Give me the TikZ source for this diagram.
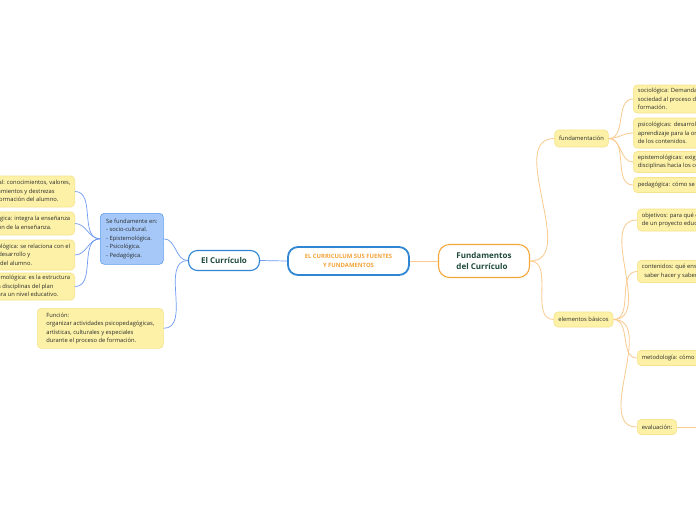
\documentclass[tikz,border=0pt]{standalone}
\usepackage{fontspec}
\setmainfont{Open Sans}
\definecolor{rootc}{HTML}{2F86D2}
\definecolor{rootlbl}{HTML}{F5A23A}
\definecolor{orgc}{HTML}{F5A83A}
\definecolor{orgln}{HTML}{F9CB8E}
\definecolor{bluln}{HTML}{6F9BF0}
\definecolor{ttlc}{HTML}{1E4A3A}
\definecolor{ylwfill}{HTML}{FCF1A7}
\definecolor{ylwdraw}{HTML}{F6E38C}
\definecolor{bluefill}{HTML}{A5C8F8}
\definecolor{bluedraw}{HTML}{5E9EEC}
\definecolor{txtc}{HTML}{2B2B2B}
\usetikzlibrary{positioning}
\newcommand{\mapfont}{\fontsize{5.8}{8.5}\selectfont}
\tikzset{
  rootbox/.style={draw=rootc,line width=1.8pt,rounded corners=10pt,fill=white,minimum width=121pt,minimum height=28pt,text=rootlbl,font=\fontsize{5.9}{9}\selectfont\bfseries,align=center},
  mainbox/.style={line width=1.1pt,rounded corners=11pt,fill=white,text=ttlc,font=\fontsize{8}{11.5}\selectfont\bfseries,align=left},
  bluebox/.style={draw=bluedraw,fill=bluefill,line width=0.6pt,rounded corners=4pt,text=txtc,font=\mapfont,align=left,inner xsep=4pt},
  leafbox/.style={draw=ylwdraw,fill=ylwfill,line width=0.6pt,rounded corners=4pt,text=txtc,font=\mapfont,align=left,inner xsep=4.5pt,inner ysep=2pt},
  conB/.style={draw=bluln,line width=0.7pt},
  conO/.style={draw=orgln,line width=0.8pt},
}

\begin{document}
\begin{tikzpicture}[x=1pt,y=-1pt]
  \path[use as bounding box] (0,0) rectangle (696,520);
  \clip (0,0) rectangle (696,520);
  \fill[white] (0,0) rectangle (696,520);
  % centro
  \node[rootbox] (root) at (348.5,261) {EL CURRICULUM SUS FUENTES\\Y FUNDAMENTOS};
  \node[mainbox,draw=orgc,minimum width=91pt,minimum height=33pt] (fund) at (484,261) {Fundamentos\\del Currículo};
  \node[mainbox,draw=rootc,minimum width=71pt,minimum height=20pt,rounded corners=9pt] (curr) at (224,260.5) {El Currículo};
  % lado izquierdo
  \node[bluebox,anchor=north west,minimum width=63pt,minimum height=51pt] (sefund) at (100,213) {Se fundamente en:\\- socio-cultural.\\- Epistemológica.\\- Psicológica.\\- Pedagógica.};
  \node[leafbox,anchor=east,minimum height=31pt] (socio) at (75,191.5) {Fuente socio-cultural: conocimientos, valores,\\actitudes, comportamientos y destrezas\\necesarias para la  formación del alumno.};
  \node[leafbox,anchor=east,minimum height=23pt] (pedag) at (75,223.5) {Fuente pedagógica: integra la enseñanza\\y la organización  de la enseñanza.};
  \node[leafbox,anchor=east,minimum height=30pt] (psico) at (75,255) {Fuente psicológica: se relaciona con el\\proceso de desarrollo y\\aprendizaje del alumno.};
  \node[leafbox,anchor=east,minimum height=27pt] (episte) at (75,286.5) {Fuente epistemológica: es la estructura\\interna de las disciplinas del plan\\de estudio para un nivel educativo.};
  \node[leafbox,anchor=north west,minimum width=126pt,minimum height=40pt] (funcion) at (37,308) {Función:\\organizar actividades psicopedagógicas,\\artísticas, culturales y especiales\\durante el proceso de formación.};
  % lado derecho
  \node[leafbox,minimum width=51pt,minimum height=17pt] (fundam) at (581.5,138.5) {fundamentación};
  \node[leafbox,minimum width=55pt,minimum height=15pt] (elem) at (583.5,319.5) {elementos básicos};
  \node[leafbox,anchor=west,minimum height=28pt] (soc) at (633,99) {sociológica: Demandas de la\\sociedad al proceso de\\formación.};
  \node[leafbox,anchor=west,minimum height=30pt] (psic) at (633,133) {psicológicas: desarrollo y\\aprendizaje para la organización\\de los contenidos.};
  \node[leafbox,anchor=west,minimum height=21pt] (epis) at (633,162) {epistemológicas: exigencias de las\\disciplinas hacia los contenidos.};
  \node[leafbox,anchor=west,minimum height=15pt] (ped) at (633,185) {pedagógica: cómo se debe enseñar.};
  \node[leafbox,anchor=west,minimum height=22pt] (obj) at (637,220) {objetivos: para qué enseñar, intenciones\\de un proyecto educativo.};
  \node[leafbox,anchor=west,minimum height=22pt] (cont) at (637,271.5) {contenidos: qué enseñar: saber,\\\hspace*{2.5pt}saber hacer y saber ser.};
  \node[leafbox,anchor=west,minimum height=15pt] (met) at (637,358) {metodología: cómo enseñar.};
  \node[leafbox,anchor=west,minimum height=15pt] (eval) at (637,427) {evaluación:};
  \coordinate (evalend) at (700,427);
  % conectores
  \draw[conB] (curr.east) -- (root.west);
  \draw[conO] (root.east) -- (fund.west);
  \draw[conB] (curr.west) to[out=180,in=0] (sefund.east);
  \draw[conB] (curr.west) to[out=180,in=0] (funcion.east);
  \foreach \leaf in {socio,pedag,psico,episte}
    \draw[conB] (sefund.west) to[out=180,in=0] (\leaf.east);
  \draw[conO] (fund.east) to[out=0,in=180] (fundam.west);
  \draw[conO] (fund.east) to[out=0,in=180] (elem.west);
  \foreach \leaf in {soc,psic,epis,ped}
    \draw[conO] (fundam.east) to[out=0,in=180] (\leaf.west);
  \foreach \leaf in {obj,cont,met,eval}
    \draw[conO] (elem.east) to[out=0,in=180] (\leaf.west);
  \draw[conO] (eval.east) -- (evalend);
\end{tikzpicture}
\end{document}
